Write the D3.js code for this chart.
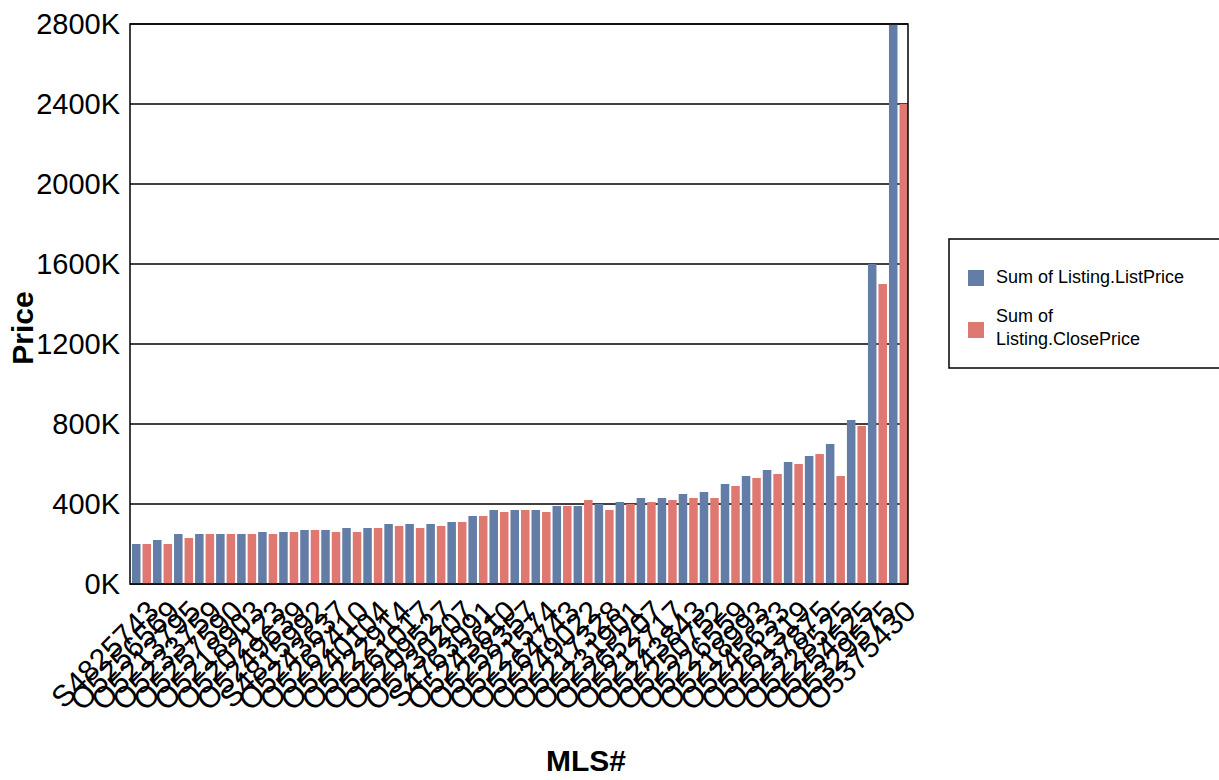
<!DOCTYPE html>
<html>
<head>
<meta charset="utf-8">
<script src="https://cdn.jsdelivr.net/npm/d3@7"></script>
<style>
  body { margin: 0; background: #fff; }
  text { font-family: "Liberation Sans", Arial, sans-serif; }
</style>
</head>
<body>
<svg id="chart"></svg>
<script>
// MLS numbers along the x axis
const mlsIds = [
  "S4825743", "O5256569", "O5213795", "O5233759", "O5257590", "O5218903",
  "O5202123", "O5249639", "S4815992", "O5243637", "O5262410", "O5240104",
  "O5222914", "O5261017", "O5209527", "O5230207", "S4763091", "O5243610",
  "O5258357", "O5221574", "O5264743", "O5249022", "O5217328", "O5231901",
  "O5265207", "O5212717", "O5243843", "O5250752", "O5226559", "O5218993",
  "O5245633", "O5261319", "O5237875", "O5228525", "O5254525", "O5329575",
  "O5375430"
];

// prices in thousands
const listPrice = [
  200, 220, 250, 250, 250, 250, 260, 260, 270, 270, 280, 280, 300, 300, 300,
  310, 340, 370, 370, 370, 390, 390, 400, 410, 430, 430, 450, 460, 500, 540,
  570, 610, 640, 700, 820, 1600, 2800
];
const closePrice = [
  200, 200, 230, 250, 250, 250, 250, 260, 270, 260, 260, 280, 290, 280, 290,
  310, 340, 360, 370, 360, 390, 420, 370, 400, 410, 420, 430, 430, 490, 530,
  550, 600, 650, 540, 790, 1500, 2400
];

const seriesNames = ["Sum of Listing.ListPrice", "Sum of Listing.ClosePrice"];
const seriesColors = ["#637da6", "#e07872"];
const yTicks = [0, 400, 800, 1200, 1600, 2000, 2400, 2800];

const width = 1219, height = 780;
const plot = { left: 130, right: 908, top: 24, bottom: 584 };

const svg = d3.select("#chart").attr("width", width).attr("height", height);

const x0 = d3.scaleBand()
  .domain(mlsIds)
  .range([plot.left, plot.right])
  .padding(0);

const x1 = d3.scaleBand()
  .domain([0, 1])
  .range([0, x0.bandwidth()])
  .paddingInner(0.19)
  .paddingOuter(0.095)
  .align(1);

const y = d3.scaleLinear().domain([0, 2800]).range([plot.bottom, plot.top]);

// gridlines
svg.append("g")
  .selectAll("line")
  .data(yTicks)
  .join("line")
  .attr("x1", plot.left)
  .attr("x2", plot.right)
  .attr("y1", (d) => y(d))
  .attr("y2", (d) => y(d))
  .attr("stroke", "#000")
  .attr("stroke-width", 1.5);

// bars
const rows = mlsIds.map((id, i) => ({ id, values: [listPrice[i], closePrice[i]] }));

svg.append("g")
  .selectAll("g")
  .data(rows)
  .join("g")
  .attr("transform", (d) => `translate(${x0(d.id)},0)`)
  .selectAll("rect")
  .data((d) => d.values.map((v, k) => ({ k, v })))
  .join("rect")
  .attr("x", (d) => x1(d.k))
  .attr("width", x1.bandwidth())
  .attr("y", (d) => y(d.v))
  .attr("height", (d) => y(0) - y(d.v))
  .attr("fill", (d) => seriesColors[d.k]);

// plot frame
svg.append("rect")
  .attr("x", plot.left)
  .attr("y", plot.top)
  .attr("width", plot.right - plot.left)
  .attr("height", plot.bottom - plot.top)
  .attr("fill", "none")
  .attr("stroke", "#000")
  .attr("stroke-width", 1.5);

// y axis labels
const yAxis = svg.append("g")
  .attr("transform", `translate(${plot.left},0)`)
  .call(d3.axisLeft(y).tickValues(yTicks).tickFormat((d) => d + "K").tickSize(0).tickPadding(10));
yAxis.select(".domain").remove();
yAxis.selectAll("text")
  .style("font-size", "29px")
  .style("font-family", "'Liberation Sans', Arial, sans-serif")
  .attr("fill", "#000");

// x axis labels
const xAxis = svg.append("g")
  .attr("transform", `translate(0,${plot.bottom})`)
  .call(d3.axisBottom(x0).tickSize(0).tickPadding(0));
xAxis.select(".domain").remove();
xAxis.selectAll("text")
  .style("font-size", "30px")
  .style("font-family", "'Liberation Sans', Arial, sans-serif")
  .attr("fill", "#000")
  .style("text-anchor", "end")
  .attr("y", 0)
  .attr("dy", "0.71em")
  .attr("transform", "translate(5,14) rotate(-45)");

// axis titles
svg.append("text")
  .attr("transform", "translate(33,328) rotate(-90)")
  .attr("text-anchor", "middle")
  .style("font-size", "30px")
  .style("font-weight", "bold")
  .text("Price");

svg.append("text")
  .attr("x", 586)
  .attr("y", 771)
  .attr("text-anchor", "middle")
  .style("font-size", "30px")
  .style("font-weight", "bold")
  .text("MLS#");

// legend
const legend = svg.append("g");
legend.append("rect")
  .attr("x", 949)
  .attr("y", 239)
  .attr("width", 272)
  .attr("height", 129)
  .attr("fill", "#fff")
  .attr("stroke", "#000")
  .attr("stroke-width", 1.5);

legend.append("rect")
  .attr("x", 968).attr("y", 270).attr("width", 16).attr("height", 16)
  .attr("fill", seriesColors[0]);
legend.append("text")
  .attr("x", 996).attr("y", 283)
  .style("font-size", "18px")
  .text(seriesNames[0]);

legend.append("rect")
  .attr("x", 968).attr("y", 322).attr("width", 16).attr("height", 16)
  .attr("fill", seriesColors[1]);
const t2 = legend.append("text")
  .attr("x", 996).attr("y", 322)
  .style("font-size", "18px");
t2.append("tspan").attr("x", 996).text("Sum of");
t2.append("tspan").attr("x", 996).attr("dy", 23).text("Listing.ClosePrice");
</script>
</body>
</html>
